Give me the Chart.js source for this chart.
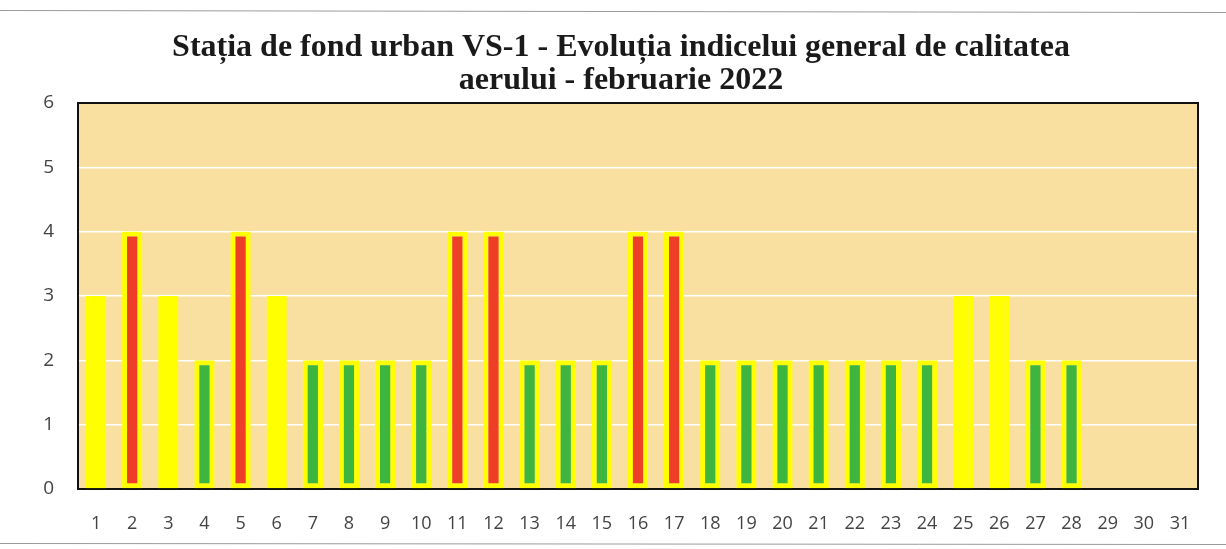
<!DOCTYPE html>
<html>
<head>
<meta charset="utf-8">
<script src="https://cdn.jsdelivr.net/npm/chart.js@4/dist/chart.umd.min.js"></script>
<style>
  html, body { margin: 0; padding: 0; background: #fff; }
  #wrap { width: 1226px; height: 549px; }
</style>
</head>
<body>
<div id="wrap"><canvas id="canvas" width="1226" height="549"></canvas></div>
<script>
// days of the month and the daily index values (29-31 have no data)
var days = ['1','2','3','4','5','6','7','8','9','10','11','12','13','14','15','16','17','18','19','20','21','22','23','24','25','26','27','28','29','30','31'];
var indexValues = [3,4,3,2,4,3,2,2,2,2,4,4,2,2,2,4,4,2,2,2,2,2,2,2,3,3,2,2,null,null,null];
var yTicks = [0,1,2,3,4,5,6];

// colour of the inner bar depends on the index class
var classColors = { 2: '#3db53f', 3: '#ffff00', 4: '#ee3e28' };

// plot background + black frame round the plot area
var plotFrame = {
    id: 'plotFrame',
    beforeDraw: function(c) {
        var a = c.chartArea, ctx = c.ctx;
        ctx.save();
        ctx.fillStyle = '#fae0a0';
        ctx.fillRect(a.left, a.top, a.right - a.left, a.bottom - a.top);
        ctx.restore();
    },
    afterDraw: function(c) {
        var a = c.chartArea, ctx = c.ctx;
        ctx.save();
        ctx.strokeStyle = '#111';
        ctx.lineWidth = 2;
        ctx.beginPath();
        ctx.moveTo(a.left, a.bottom);
        ctx.lineTo(a.left, a.top);
        ctx.lineTo(a.right, a.top);
        ctx.lineTo(a.right, a.bottom);
        ctx.stroke();
        // faint scan edges of the page
        ctx.strokeStyle = '#9a9a9a';
        ctx.lineWidth = 1;
        ctx.beginPath();
        ctx.moveTo(0, 10.5); ctx.lineTo(1226, 12.5);
        ctx.moveTo(0, 543.5); ctx.lineTo(1226, 544.5);
        ctx.stroke();
        ctx.restore();
    }
};

var chart = new Chart(document.getElementById('canvas').getContext('2d'), {
    type: 'bar',
    data: {
        labels: days,
        datasets: [{
            data: indexValues,
            backgroundColor: indexValues.map(function(v) { return classColors[v] || '#ffff00'; }),
            borderColor: '#ffff00',
            borderWidth: 5,
            borderSkipped: false,
            categoryPercentage: 1.0,
            barPercentage: 0.56
        }]
    },
    plugins: [plotFrame],
    options: {
        responsive: false,
        animation: false,
        layout: { padding: { top: 14, right: 0, bottom: 14, left: 16 } },
        plugins: {
            legend: { display: false },
            tooltip: { enabled: false },
            title: {
                display: true,
                text: ['Stația de fond urban VS-1 - Evoluția indicelui general de calitatea', 'aerului - februarie 2022'],
                color: '#1a1a1a',
                font: { family: '"Liberation Serif", "DejaVu Serif", serif', size: 32, weight: 'bold', lineHeight: 1.03 },
                padding: { top: 17, bottom: 6 }
            }
        },
        scales: {
            x: {
                grid: { display: false },
                border: { display: true, color: '#111', width: 2 },
                ticks: {
                    color: '#444',
                    font: { family: '"Open Sans", "Liberation Sans", sans-serif', size: 18 },
                    padding: 16,
                    maxRotation: 0,
                    autoSkip: false
                },
                afterFit: function(s) { s.height = 46; }
            },
            y: {
                min: 0,
                max: 6,
                afterBuildTicks: function(s) { s.ticks = yTicks.map(function(v) { return { value: v }; }); },
                grid: { color: '#ffffff', lineWidth: 1.5, drawTicks: false },
                border: { display: false },
                ticks: {
                    color: '#444',
                    font: { family: '"Open Sans", "Liberation Sans", sans-serif', size: 19 },
                    padding: 24
                },
                afterFit: function(s) { s.width = 62; }
            },
            // empty right-hand margin so the title centres like the original
            yRight: {
                position: 'right',
                min: 0,
                max: 6,
                grid: { display: false },
                border: { display: false },
                ticks: { display: false },
                afterFit: function(s) { s.width = 28; }
            }
        }
    }
});
</script>
</body>
</html>
